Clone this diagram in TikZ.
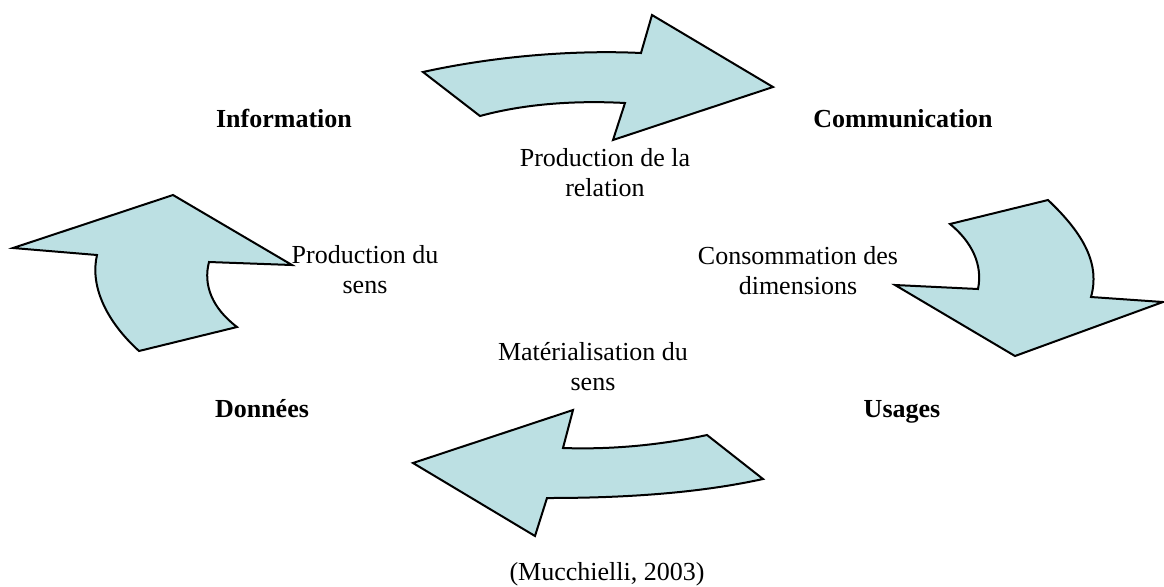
\documentclass[tikz,border=0pt]{standalone}
\usepackage{fontspec}
\setmainfont{Liberation Serif}
\usepackage{tikz}
\usetikzlibrary{positioning}
\definecolor{flowblue}{RGB}{188,224,227}

\tikzset{
  flow/.style={fill=flowblue, draw=black, line width=1pt, line join=miter},
  pole/.style={font=\fontsize{13}{15}\selectfont\bfseries, inner sep=0pt, anchor=base},
  note/.style={font=\fontsize{13}{15}\selectfont, align=center, inner sep=0pt}
}

\begin{document}
\begin{tikzpicture}[x=0.5pt, y=-0.5pt]
  \useasboundingbox (0,0) rectangle (1164,586);
  % curved arrows
  \draw[flow] (423,72) .. controls (500,55) and (580,50) .. (641,53) -- (652,15) -- (773,87)
    -- (613,140) -- (625,103) .. controls (570,100) and (520,105) .. (480,116) -- cycle;
  \draw[flow] (950,224) -- (1048,200) .. controls (1085,235) and (1100,265) .. (1091,297)
    -- (1163,302) -- (1015,356) -- (895,285) -- (978,289)
    .. controls (983,265) and (972,242) .. (950,224) -- cycle;
  \draw[flow] (573,410) -- (563,448) .. controls (620,450) and (670,443) .. (707,435)
    -- (763,479) .. controls (690,495) and (610,498) .. (547,498) -- (535,536) -- (413,463) -- cycle;
  \draw[flow] (13,248) -- (173,195) -- (292,265) -- (209,262)
    .. controls (203,285) and (212,308) .. (237,327) -- (139,351)
    .. controls (105,320) and (90,285) .. (97,255) -- cycle;
  % poles
  \node[pole] (info) at (284,127) {Information};
  \node[pole] (comm) at (903,127) {Communication};
  \node[pole] (usag) at (902,417) {Usages};
  \node[pole] (donn) at (262,417) {Données};
  % processes
  \node[note] (relat) at (605,173) {Production de la\\relation};
  \node[note] (sens) at (365,270) {Production du\\sens};
  \node[note] (conso) at (798,271) {Consommation des\\dimensions};
  \node[note] (mater) at (593,367) {Matérialisation du\\sens};
  \node[note, anchor=base] (src) at (607,580) {(Mucchielli, 2003)};
\end{tikzpicture}
\end{document}
